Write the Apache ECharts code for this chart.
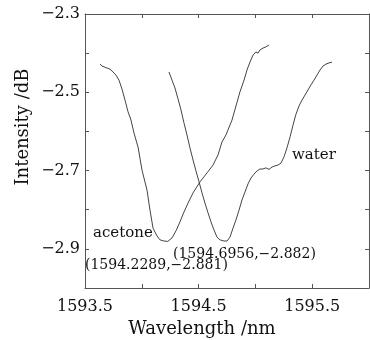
<!DOCTYPE html>
<html>
<head>
<meta charset="utf-8">
<script src="https://cdn.jsdelivr.net/npm/echarts@6/dist/echarts.min.js"></script>
<style>
  html, body { margin: 0; padding: 0; background: #fff; }
  #chart { width: 370px; height: 340px; }
</style>
</head>
<body>
<div id="chart"></div>
<script>
// acetone spectrum: [wavelength nm, intensity dB]
const acetone = [
  [1593.632, -2.428], [1593.650, -2.433], [1593.667, -2.430], [1593.694, -2.438],
  [1593.720, -2.441], [1593.746, -2.448], [1593.773, -2.456], [1593.799, -2.469],
  [1593.826, -2.492], [1593.852, -2.520], [1593.879, -2.550], [1593.905, -2.571],
  [1593.931, -2.604], [1593.967, -2.640], [1594.002, -2.699], [1594.046, -2.750],
  [1594.072, -2.801], [1594.099, -2.847], [1594.134, -2.867], [1594.160, -2.877],
  [1594.195, -2.880], [1594.2289, -2.881], [1594.266, -2.872], [1594.301, -2.854],
  [1594.336, -2.831], [1594.371, -2.806], [1594.407, -2.783], [1594.451, -2.757],
  [1594.512, -2.729], [1594.574, -2.706], [1594.627, -2.686], [1594.671, -2.660],
  [1594.706, -2.627], [1594.741, -2.609], [1594.794, -2.571], [1594.829, -2.535],
  [1594.864, -2.499], [1594.900, -2.469], [1594.926, -2.443], [1594.952, -2.423],
  [1594.979, -2.405], [1595.005, -2.397], [1595.023, -2.400], [1595.040, -2.392],
  [1595.067, -2.387], [1595.093, -2.384], [1595.120, -2.379]
];

// water spectrum
const water = [
  [1594.239, -2.448], [1594.266, -2.469], [1594.292, -2.489], [1594.319, -2.517],
  [1594.345, -2.545], [1594.371, -2.578], [1594.398, -2.609], [1594.424, -2.642],
  [1594.451, -2.673], [1594.477, -2.701], [1594.504, -2.729], [1594.530, -2.757],
  [1594.556, -2.783], [1594.583, -2.808], [1594.609, -2.831], [1594.636, -2.852],
  [1594.662, -2.870], [1594.688, -2.877], [1594.6956, -2.882], [1594.724, -2.880],
  [1594.750, -2.880], [1594.776, -2.870], [1594.803, -2.847], [1594.829, -2.826],
  [1594.856, -2.801], [1594.882, -2.775], [1594.908, -2.755], [1594.935, -2.734],
  [1594.961, -2.719], [1594.988, -2.709], [1595.014, -2.701], [1595.040, -2.696],
  [1595.067, -2.696], [1595.093, -2.693], [1595.120, -2.697], [1595.146, -2.691],
  [1595.173, -2.688], [1595.199, -2.686], [1595.225, -2.681], [1595.252, -2.665],
  [1595.278, -2.642], [1595.305, -2.614], [1595.331, -2.584], [1595.357, -2.556],
  [1595.384, -2.535], [1595.410, -2.520], [1595.437, -2.507], [1595.463, -2.494],
  [1595.489, -2.481], [1595.516, -2.469], [1595.542, -2.456], [1595.569, -2.443],
  [1595.595, -2.433], [1595.621, -2.428], [1595.648, -2.425], [1595.674, -2.423]
];

const xLabels = [1593.5, 1594.5, 1595.5];
const yLabels = [-2.3, -2.5, -2.7, -2.9];

const font = 'DejaVu Serif';
const axisColor = '#555';
const lineColor = '#444';

const hasLabel = (list, v) => list.some(t => Math.abs(t - v) < 1e-6);
const fmt = v => String(v).replace('-', '\u2212');

const tickStyle = { inside: true, length: 4, lineStyle: { color: axisColor } };

const myChart = echarts.init(document.getElementById('chart'));
const option = {
  backgroundColor: '#fff',
  animation: false,
  grid: { left: 85, right: 1, top: 14, bottom: 52 },
  xAxis: [
    {
      type: 'value', min: 1593.5, max: 1596, interval: 0.5,
      axisLine: { lineStyle: { color: axisColor } },
      axisTick: tickStyle,
      splitLine: { show: false },
      axisLabel: {
        margin: 11, color: '#111', fontFamily: font, fontSize: 16,
        showMinLabel: true, showMaxLabel: false,
        formatter: v => hasLabel(xLabels, v) ? String(v) : ''
      }
    },
    {
      type: 'value', position: 'top', min: 1593.5, max: 1596, interval: 0.5,
      axisLine: { show: true, lineStyle: { color: axisColor } },
      axisTick: tickStyle, axisLabel: { show: false }, splitLine: { show: false }
    }
  ],
  yAxis: [
    {
      type: 'value', min: -3.0, max: -2.3, interval: 0.1,
      axisLine: { show: true, lineStyle: { color: axisColor } },
      axisTick: tickStyle,
      splitLine: { show: false },
      axisLabel: {
        margin: 5, color: '#111', fontFamily: font, fontSize: 16,
        formatter: v => hasLabel(yLabels, v) ? fmt(v) : ''
      }
    },
    {
      type: 'value', position: 'right', min: -3.0, max: -2.3, interval: 0.1,
      axisLine: { show: true, lineStyle: { color: axisColor } },
      axisTick: tickStyle, axisLabel: { show: false }, splitLine: { show: false }
    }
  ],
  series: [
    {
      name: 'acetone', type: 'line', data: acetone, showSymbol: false,
      lineStyle: { color: lineColor, width: 1 }
    },
    {
      name: 'water', type: 'line', data: water, showSymbol: false,
      lineStyle: { color: lineColor, width: 1 }
    }
  ],
  graphic: [
    {
      type: 'text', x: 202, y: 329,
      style: { text: 'Wavelength /nm', font: '18px "DejaVu Serif"', fill: '#111', textAlign: 'center', textVerticalAlign: 'middle' }
    },
    {
      type: 'text', x: 23, y: 127, rotation: Math.PI / 2,
      style: { text: 'Intensity /dB', font: '18px "DejaVu Serif"', fill: '#111', textAlign: 'center', textVerticalAlign: 'middle' }
    },
    {
      type: 'text', x: 93, y: 233,
      style: { text: 'acetone', font: '15px "DejaVu Serif"', fill: '#111', textAlign: 'left', textVerticalAlign: 'middle' }
    },
    {
      type: 'text', x: 292, y: 155,
      style: { text: 'water', font: '15px "DejaVu Serif"', fill: '#111', textAlign: 'left', textVerticalAlign: 'middle' }
    },
    {
      type: 'text', x: 173, y: 254,
      style: { text: '(1594.6956,\u22122.882)', font: '14px "DejaVu Serif"', fill: '#111', textAlign: 'left', textVerticalAlign: 'middle' }
    },
    {
      type: 'text', x: 85, y: 265,
      style: { text: '(1594.2289,\u22122.881)', font: '14px "DejaVu Serif"', fill: '#111', textAlign: 'left', textVerticalAlign: 'middle' }
    }
  ]
};
option && myChart.setOption(option);
</script>
</body>
</html>
